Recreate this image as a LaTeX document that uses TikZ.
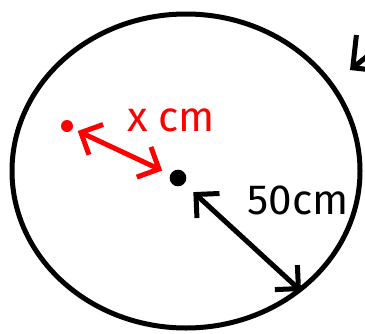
\documentclass[tikz,border=0pt]{standalone}
\usepackage{fontspec}
\setmainfont{Fira Sans}
\usetikzlibrary{arrows.meta}
\begin{document}
\begin{tikzpicture}[x=0.03cm,y=-0.03cm, line width=1.5mm, line cap=round, line join=round,
  dot/.style={circle, inner sep=0pt},
  twoway/.style={{Straight Barb[length=5mm,width=10mm]}-{Straight Barb[length=5mm,width=10mm]}},
  oneway/.style={-{Straight Barb[length=7mm,width=14mm]}},
  lbl/.style={font=\fontsize{36}{36}\selectfont}]
\clip (0,0) rectangle (365,333);
\draw (186,171) ellipse [x radius=174, y radius=157];
\node[dot, fill=red, minimum size=3.6mm] (p) at (67,126) {};
\node[dot, fill=black, minimum size=5mm] (o) at (178,178) {};
\coordinate (rim) at (301,291);
\coordinate (far) at (400,30);
\coordinate (tip) at (350,70);
\node[lbl, red] (xl) at (171,120) {x cm};
\node[lbl] (rl) at (298,200) {50cm};
\draw[red, twoway, shorten <=1mm, shorten >=2mm] (p) -- (o);
\draw[twoway, shorten <=3mm] (o) -- (rim);
\draw[oneway] (far) -- (tip);
\end{tikzpicture}
\end{document}
